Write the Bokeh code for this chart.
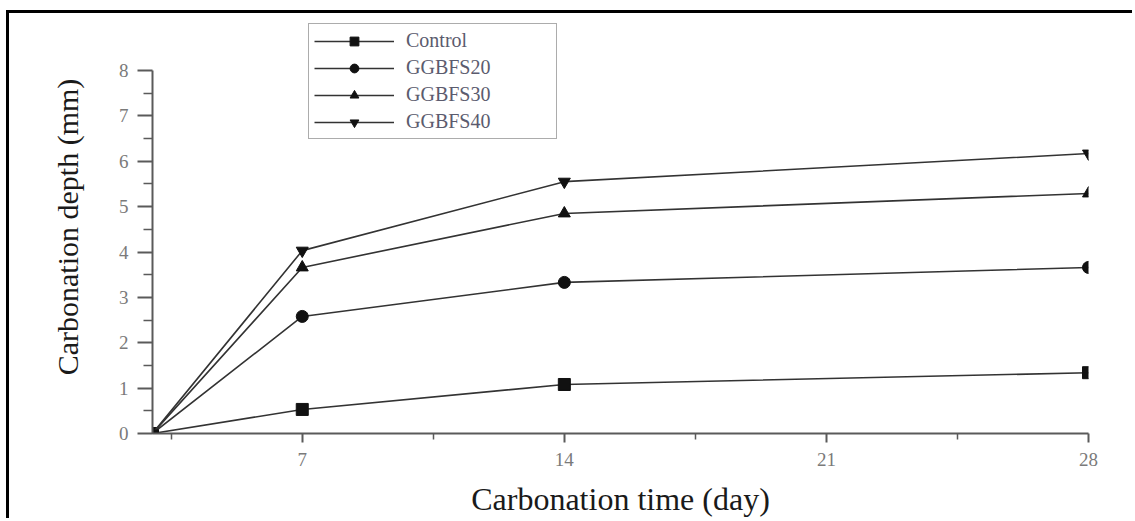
from bokeh.plotting import figure
from bokeh.models import Range1d, FixedTicker, Legend, LegendItem
from bokeh.embed import file_html
from bokeh.resources import INLINE

# Carbonation depth (mm) against exposure time (days)
days = [3, 7, 14, 28]
control = [0.0, 0.53, 1.08, 1.34]
ggbfs20 = [0.0, 2.58, 3.33, 3.66]
ggbfs30 = [0.0, 3.66, 4.85, 5.29]
ggbfs40 = [0.0, 4.03, 5.55, 6.17]

series_names = ["Control", "GGBFS20", "GGBFS30", "GGBFS40"]
series_values = [control, ggbfs20, ggbfs30, ggbfs40]
series_markers = ["square", "circle", "triangle", "inverted_triangle"]

x_major = [7, 14, 21, 28]
x_minor = [3.5, 10.5, 17.5, 24.5]
y_major = [0, 1, 2, 3, 4, 5, 6, 7, 8]
y_minor = [0.5, 1.5, 2.5, 3.5, 4.5, 5.5, 6.5, 7.5]

SERIF = "Liberation Serif"
LINE = "#333333"
AXIS = "#5a5a5a"
TICK_TEXT = "#7a7a7a"

# headroom above the 8 mm tick leaves space for the legend inside the frame
Y_TOP = 8 + 50 / 45.375

p = figure(width=1126, height=508, output_backend="svg", toolbar_location=None,
           x_range=Range1d(3, 28), y_range=Range1d(0, Y_TOP),
           min_border_left=143, min_border_right=47,
           min_border_top=7, min_border_bottom=88)
p.background_fill_color = "white"
p.border_fill_color = "white"
p.outline_line_color = None
p.grid.visible = False
# page frame along the top and left edges
p.styles = {"margin-left": "6px", "margin-top": "10px",
            "border-left": "3px solid black", "border-top": "3px solid black"}

items = []
for name, vals, mk in zip(series_names, series_values, series_markers):
    ln = p.line(days, vals, line_color=LINE, line_width=1.6)
    sc = p.scatter(days, vals, marker=mk, size=12, fill_color="#111111",
                   line_color="#111111")
    items.append(LegendItem(label=name, renderers=[ln, sc]))

# axes
p.xaxis.ticker = FixedTicker(ticks=x_major, minor_ticks=x_minor)
p.yaxis.ticker = FixedTicker(ticks=y_major, minor_ticks=y_minor)
p.yaxis.bounds = (0, 8)
for ax in (p.xaxis, p.yaxis):
    ax.axis_line_color = AXIS
    ax.axis_line_width = 2
    ax.major_tick_line_color = AXIS
    ax.major_tick_line_width = 2
    ax.minor_tick_line_color = AXIS
    ax.minor_tick_line_width = 1.5
    ax.major_tick_in = 0
    ax.minor_tick_in = 0
    ax.major_label_text_font = SERIF
    ax.major_label_text_font_size = "19px"
    ax.major_label_text_color = TICK_TEXT
    ax.axis_label_text_font = SERIF
    ax.axis_label_text_font_style = "normal"
    ax.axis_label_text_color = "#1a1a1a"

p.xaxis.major_tick_out = 9
p.xaxis.minor_tick_out = 6
p.xaxis.major_label_standoff = 10
p.xaxis.axis_label = "Carbonation time (day)"
p.xaxis.axis_label_text_font_size = "32px"
p.xaxis.axis_label_standoff = 12

p.yaxis.major_tick_out = 15
p.yaxis.minor_tick_out = 9
p.yaxis.major_label_standoff = 9
p.yaxis.axis_label = "Carbonation depth (mm)"
p.yaxis.axis_label_text_font_size = "30px"
p.yaxis.axis_label_standoff = 32

legend = Legend(items=items, location=(156, 294),
                glyph_width=80, glyph_height=22, label_height=22,
                label_width=145, label_standoff=12, spacing=4, padding=5,
                label_text_font=SERIF, label_text_font_size="20px",
                label_text_color="#5b5b6e",
                border_line_color=AXIS, border_line_width=1.5,
                background_fill_color="white", background_fill_alpha=1)
p.add_layout(legend)

open("out.html", "w").write(file_html(p, INLINE))
